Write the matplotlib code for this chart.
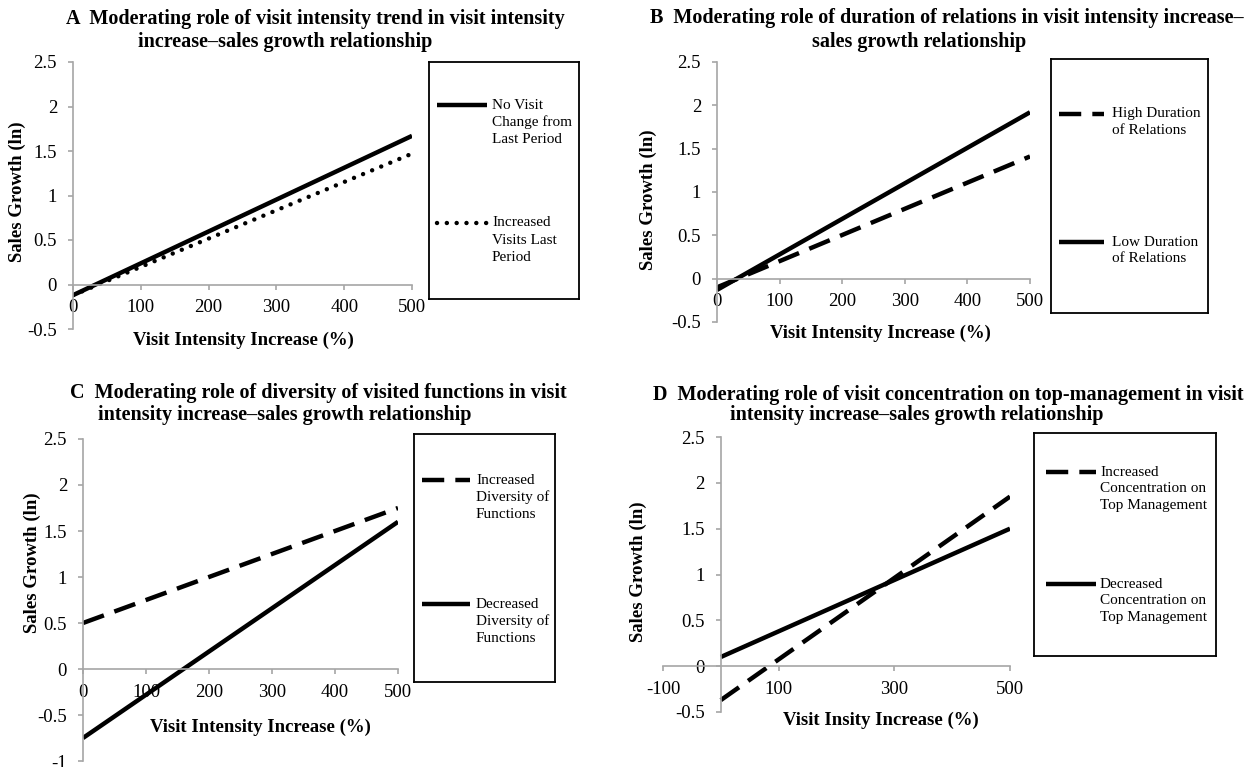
import matplotlib.pyplot as plt

plt.rcParams['font.family'] = ['Liberation Serif', 'DejaVu Serif']

# ---- data (line end points at x = 0 and x = 500) ----
x_ends = [0, 500]

a_no_change = [-0.12, 1.67]
a_increased = [-0.12, 1.47]

b_high = [-0.10, 1.41]
b_low = [-0.13, 1.92]

c_increased = [0.50, 1.75]
c_decreased = [-0.75, 1.60]

d_increased = [-0.37, 1.85]
d_decreased = [0.10, 1.50]

xticks_abc = [0, 100, 200, 300, 400, 500]
xticks_d = [-100, 100, 300, 500]
yticks_std = [-0.5, 0, 0.5, 1, 1.5, 2, 2.5]
yticks_c = [-1, -0.5, 0, 0.5, 1, 1.5, 2, 2.5]

titles = [
    ("A  Moderating role of visit intensity trend in visit intensity",
     "increase\u2013sales growth relationship"),
    ("B  Moderating role of duration of relations in visit intensity increase\u2013",
     "sales growth relationship"),
    ("C  Moderating role of diversity of visited functions in visit",
     "intensity increase\u2013sales growth relationship"),
    ("D  Moderating role of visit concentration on top-management in visit",
     "intensity increase\u2013sales growth relationship"),
]
xlabels = ["Visit Intensity Increase (%)", "Visit Intensity Increase (%)",
           "Visit Intensity Increase (%)", "Visit Insity Increase (%)"]
ylabel = "Sales Growth (ln)"

series = [
    [(a_no_change, 'solid', "No Visit\nChange from\nLast Period"),
     (a_increased, 'dotted', "Increased\nVisits Last\nPeriod")],
    [(b_high, 'dashed', "High Duration\nof Relations"),
     (b_low, 'solid', "Low Duration\nof Relations")],
    [(c_increased, 'dashed', "Increased\nDiversity of\nFunctions"),
     (c_decreased, 'solid', "Decreased\nDiversity of\nFunctions")],
    [(d_increased, 'dashed', "Increased\nConcentration on\nTop Management"),
     (d_decreased, 'solid', "Decreased\nConcentration on\nTop Management")],
]

# ---- layout in pixels ----
W, H = 1248, 767
layout = [
    dict(ax=(73, 412, 62, 329), xlim=(0, 500), ylim=(-0.5, 2.5), xt=xticks_abc, yt=yticks_std,
         title=((66, 19), (138, 42)), ylab=(17, 192), xlab=(243, 340),
         leg=(429, 579, 62, 299), sample=(437, 487), text_x=492, rows=(105, 223)),
    dict(ax=(717, 1030, 62, 322), xlim=(0, 500), ylim=(-0.5, 2.5), xt=xticks_abc, yt=yticks_std,
         title=((650, 18), (812, 42)), ylab=(648, 200), xlab=(880, 333),
         leg=(1051, 1208, 59, 313), sample=(1059, 1104), text_x=1112, rows=(114, 242)),
    dict(ax=(83, 398, 439, 761), xlim=(0, 500), ylim=(-1, 2.5), xt=xticks_abc, yt=yticks_c,
         title=((70, 393), (98, 415)), ylab=(32, 563), xlab=(260, 727),
         leg=(414, 555, 434, 682), sample=(422, 470), text_x=476, rows=(480, 604)),
    dict(ax=(663, 1010, 437, 712), xlim=(-100, 500), ylim=(-0.5, 2.5), xt=xticks_d, yt=yticks_std,
         title=((653, 395), (730, 415)), ylab=(638, 572), xlab=(881, 720),
         leg=(1034, 1216, 433, 656), sample=(1046, 1096), text_x=1100, rows=(472, 584)),
]

gray = '#a6a6a6'


def box(l, r, t, b):
    return [l / W, 1 - b / H, (r - l) / W, (b - t) / H]


def fmt(v):
    return str(int(v)) if float(v).is_integer() else str(v)


def style_kw(ls):
    if ls == 'dashed':
        return dict(linestyle=(0, (5, 2.5)), dash_capstyle='butt')
    if ls == 'dotted':
        return dict(linestyle=(0, (0.01, 2.2)), dash_capstyle='round')
    return dict(linestyle='-', solid_capstyle='butt')


fig = plt.figure(figsize=(W / 100, H / 100), dpi=100)

for lay, ser, (t1, t2), xlab in zip(layout, series, titles, xlabels):
    ax = fig.add_axes(box(*lay['ax']))
    ax.patch.set_alpha(0)
    for yvals, ls, _ in ser:
        ax.plot(x_ends, yvals, color='black', lw=3.2, **style_kw(ls))
    ax.set_xlim(*lay['xlim'])
    ax.set_ylim(*lay['ylim'])
    for s in ('top', 'right'):
        ax.spines[s].set_visible(False)
    ax.spines['left'].set_position(('data', 0))
    ax.spines['bottom'].set_position(('data', 0))
    for s in ('left', 'bottom'):
        ax.spines[s].set_color(gray)
        ax.spines[s].set_linewidth(1.2)
    ax.set_xticks(lay['xt'])
    ax.set_xticklabels([fmt(v) for v in lay['xt']])
    ax.set_yticks(lay['yt'])
    ax.set_yticklabels([fmt(v) for v in lay['yt']])
    ax.tick_params(direction='out', length=3.5, width=1.2, color=gray, labelsize=13.5)
    ax.tick_params(axis='x', pad=7)
    ax.tick_params(axis='y', pad=8)

    (x1, y1), (x2, y2) = lay['title']
    fig.text(x1 / W, 1 - y1 / H, t1, ha='left', va='center', fontsize=14.5, fontweight='bold')
    fig.text(x2 / W, 1 - y2 / H, t2, ha='left', va='center', fontsize=14.5, fontweight='bold')
    yx, yy = lay['ylab']
    fig.text(yx / W, 1 - yy / H, ylabel, rotation=90, ha='center', va='center',
             fontsize=13.5, fontweight='bold')
    xx, xy = lay['xlab']
    fig.text(xx / W, 1 - xy / H, xlab, ha='center', va='center', fontsize=13.5, fontweight='bold')

    # legend box drawn as its own framed axes, coordinates in pixels from its top-left
    l, r, t, b = lay['leg']
    lax = fig.add_axes(box(l, r, t, b))
    lax.set_xlim(0, r - l)
    lax.set_ylim(b - t, 0)
    lax.set_xticks([])
    lax.set_yticks([])
    for s in lax.spines.values():
        s.set_color('black')
        s.set_linewidth(1.3)
    sx0, sx1 = lay['sample']
    for (yvals, ls, label), row in zip(ser, lay['rows']):
        lax.plot([sx0 - l, sx1 - l], [row - t, row - t], color='black', lw=3.2, **style_kw(ls))
        for i, line in enumerate(label.split('\n')):
            lax.text(lay['text_x'] - l, row - t + i * 17, line, ha='left', va='center', fontsize=11)

fig.savefig('out.png', dpi=100)
